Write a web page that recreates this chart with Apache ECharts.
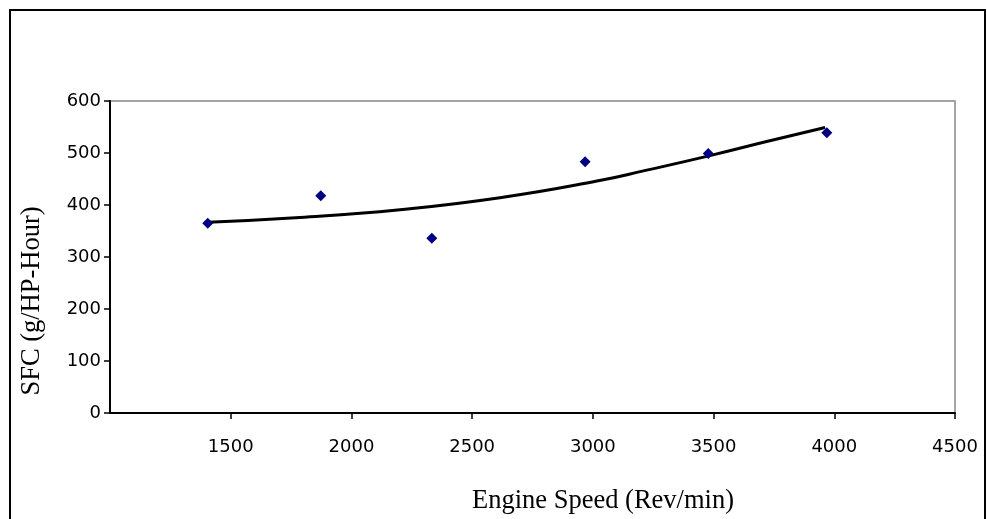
<!DOCTYPE html>
<html>
<head>
<meta charset="utf-8">
<script src="https://cdn.jsdelivr.net/npm/echarts@6/dist/echarts.min.js"></script>
<style>
html,body{margin:0;padding:0;background:#fff;}
#chart{width:987px;height:519px;}
</style>
</head>
<body>
<div id="chart"></div>
<script>
// Measured data points (Engine speed rev/min, SFC g/HP-Hour)
const speed = [1405, 1873, 2333, 2968, 3478, 3969];
const sfc = [365, 418, 336, 483, 499, 539];
// Trend line
const trendSpeed = [1405, 1787, 2201, 2615, 3017, 3223, 3485, 3720, 3962];
const trendSfc = [367, 376, 391, 414, 446, 467, 495, 522, 549];
// Axis ticks
const xTicks = [1000, 1500, 2000, 2500, 3000, 3500, 4000, 4500];
const yTicks = [0, 100, 200, 300, 400, 500, 600];

const chart = echarts.init(document.getElementById('chart'));
chart.setOption({
  backgroundColor: '#fff',
  animation: false,
  grid: {left: 110, top: 101, width: 845, height: 312, show: true, borderColor: '#888', borderWidth: 1.5, backgroundColor: 'transparent'},
  xAxis: {
    type: 'value', min: xTicks[0], max: xTicks[xTicks.length - 1], interval: xTicks[1] - xTicks[0],
    axisLine: {show: true, onZero: false, lineStyle: {color: '#000', width: 2}},
    axisTick: {show: true, length: 6, lineStyle: {color: '#000', width: 1.5}},
    axisLabel: {showMinLabel: false, margin: 25, color: '#000', fontFamily: 'DejaVu Sans', fontSize: 18, formatter: v => String(v)},
    splitLine: {show: false}
  },
  yAxis: {
    type: 'value', min: yTicks[0], max: yTicks[yTicks.length - 1], interval: yTicks[1] - yTicks[0],
    axisLine: {show: true, lineStyle: {color: '#000', width: 2}},
    axisTick: {show: true, length: 6, lineStyle: {color: '#000', width: 1.5}},
    axisLabel: {margin: 9, color: '#000', fontFamily: 'DejaVu Sans', fontSize: 18, formatter: v => String(v)},
    splitLine: {show: false}
  },
  graphic: [
    {type: 'rect', z: 100, silent: true, shape: {x: 10, y: 10, width: 975, height: 540}, style: {fill: 'none', stroke: '#000', lineWidth: 2}},
    {type: 'text', x: 603, y: 501, style: {text: 'Engine Speed (Rev/min)', fill: '#000', font: '26.5px "Liberation Serif"', textAlign: 'center', textVerticalAlign: 'middle'}},
    {type: 'text', x: 32, y: 301, rotation: Math.PI / 2, style: {text: 'SFC (g/HP-Hour)', fill: '#000', font: '26.5px "Liberation Serif"', textAlign: 'center', textVerticalAlign: 'middle'}}
  ],
  series: [
    {
      type: 'line', data: trendSpeed.map((v, i) => [v, trendSfc[i]]), smooth: 0.5, showSymbol: false,
      lineStyle: {color: '#000', width: 3}, z: 2
    },
    {
      type: 'scatter', data: speed.map((v, i) => [v, sfc[i]]), symbol: 'diamond', symbolSize: 11,
      itemStyle: {color: '#000080', opacity: 1}, z: 3
    }
  ]
});
</script>
</body>
</html>
